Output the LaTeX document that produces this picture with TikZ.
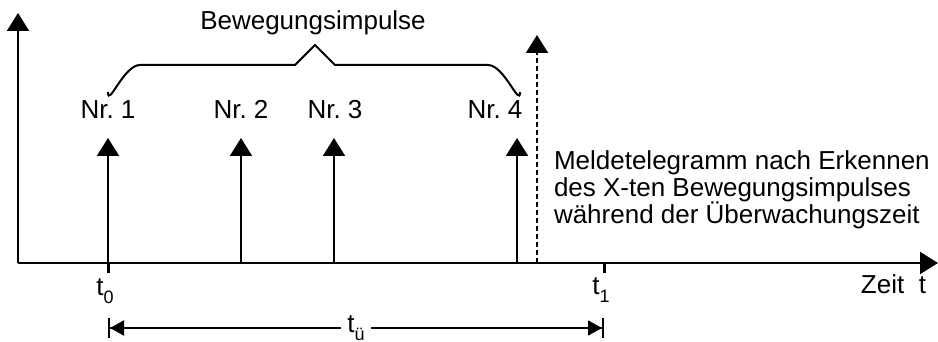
\documentclass[tikz,border=0pt]{standalone}
\usepackage{fontspec}
\setmainfont{Liberation Sans}
\frenchspacing
\usetikzlibrary{arrows.meta,positioning,calc}
\newcommand{\lowsub}[1]{\raisebox{-4pt}{\fontsize{9}{9}\selectfont #1}}

\begin{document}
\begin{tikzpicture}[x=0.5pt, y=-0.5pt, >={Triangle[length=9pt,width=11pt]}, line width=1pt, font=\fontsize{13}{13.7}\selectfont]
        \tikzset{
            lbl/.style={inner sep=0pt},
            nrlbl/.style={inner sep=0pt, anchor=base},
            impulse/.style={->, line width=1pt},
            tick/.style={line width=1.5pt},
            span/.style={{Bar[width=10pt]Triangle[length=7pt,width=7.5pt]}-{Triangle[length=7pt,width=7.5pt]Bar[width=10pt]}, line width=1pt}
        }
        \useasboundingbox (0,0) rectangle (938,342);

        % Axes
        \coordinate (origin) at (18,263);
        \coordinate (ytop) at (18,13);
        \coordinate (xend) at (938,263);
        \draw [->] (origin) -- (ytop);
        \draw [->] (origin) -- (xend);

        % Impulses
        \coordinate (t0) at (108,263);
        \coordinate (t1) at (604,263);
        \coordinate (p2) at (241,263);
        \coordinate (p3) at (334,263);
        \coordinate (p4) at (517,263);
        \coordinate (msgbase) at (537,263);
        \draw [impulse] (t0) -- (108,138) coordinate (tip1);
        \draw [impulse] (p2) -- (241,138) coordinate (tip2);
        \draw [impulse] (p3) -- (334,138) coordinate (tip3);
        \draw [impulse] (p4) -- (517,138) coordinate (tip4);
        \draw [->, dash pattern=on 2.5pt off 1.5pt] (msgbase) -- (537,35) coordinate (msgtip);

        \node [nrlbl] (nr1) at (108,119) {Nr. 1};
        \node [nrlbl] (nr2) at (241,119) {Nr. 2};
        \node [nrlbl] (nr3) at (335,119) {Nr. 3};
        \node [nrlbl] (nr4) at (495,119) {Nr. 4};

        % Brace over the impulses
        \coordinate (brL) at (108,92);
        \coordinate (brR) at (520,92);
        \coordinate (brtip) at (315,45);
        \draw [line width=1pt] (brL) to[out=-90,in=180] (140,65) -- (295,65) -- (brtip) -- (335,65) -- (488,65) to[out=0,in=-90] (brR);
        \node [lbl, anchor=base] (bew) at (313,30) {Bewegungsimpulse};

        \node [lbl, anchor=base west, align=left] (msg) at (553,224) {Meldetelegramm nach Erkennen\\des X-ten Bewegungsimpulses\\während der Überwachungszeit};

        % Time marks
        \draw [tick] (t0) -- ++(0,10);
        \draw [tick] (t1) -- ++(0,10);
        \node [lbl, anchor=base] (lt0) at (105,295) {t\lowsub{0}};
        \node [lbl, anchor=base] (lt1) at (601,294) {t\lowsub{1}};
        \node [lbl, anchor=base east] (zeit) at (927,293) {Zeit\ \ t};

        % Monitoring time
        \coordinate (spanL) at (108,328);
        \coordinate (spanR) at (604,328);
        \draw [span] (spanL) -- node [fill=white, inner xsep=3pt, inner ysep=0pt] (tue) {t\lowsub{ü}} (spanR);
\end{tikzpicture}
\end{document}
